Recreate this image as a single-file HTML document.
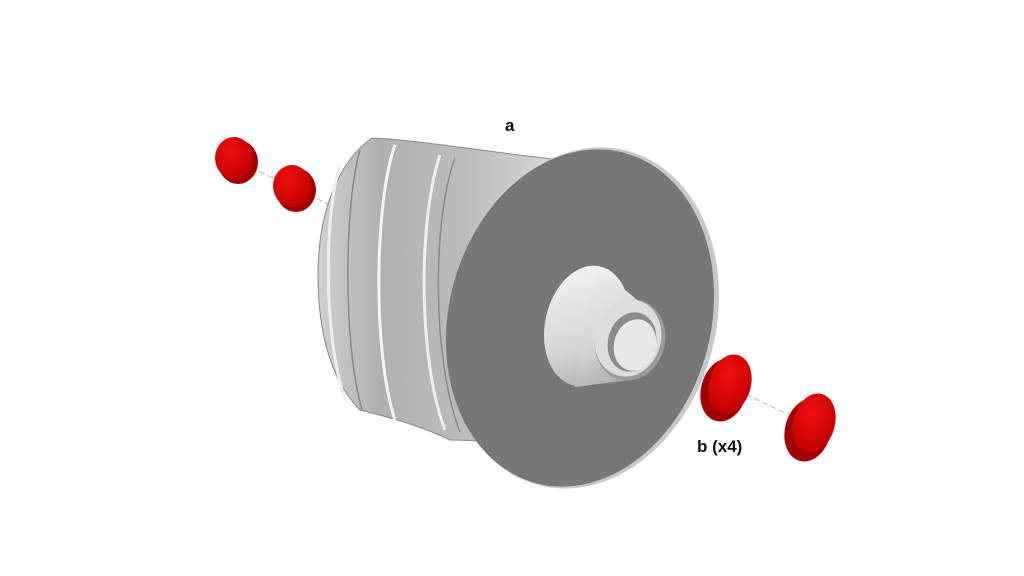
<!DOCTYPE html>
<html><head><meta charset="utf-8"><style>
html,body{margin:0;padding:0;background:#fff;width:1024px;height:576px;overflow:hidden}
text{font-family:"Liberation Sans",sans-serif;font-weight:bold;fill:#111}
</style></head><body>
<svg width="1024" height="576" viewBox="0 0 1024 576" xmlns="http://www.w3.org/2000/svg">
<defs>
<linearGradient id="body" x1="0" y1="0" x2="1" y2="0">
<stop offset="0" stop-color="#d0d0d0"/><stop offset="0.25" stop-color="#b0b0b0"/>
<stop offset="0.6" stop-color="#bcbcbc"/><stop offset="1" stop-color="#dadada"/>
</linearGradient>
<linearGradient id="cone" gradientUnits="userSpaceOnUse" x1="560" y1="270" x2="620" y2="390">
<stop offset="0" stop-color="#f2f2f2"/><stop offset="0.6" stop-color="#d6d6d6"/><stop offset="1" stop-color="#a8a8a8"/>
</linearGradient>
<radialGradient id="red" cx="0.4" cy="0.35" r="0.7">
<stop offset="0" stop-color="#f01010"/><stop offset="1" stop-color="#c00000"/>
</radialGradient>
</defs>
<g stroke="#bbb" stroke-width="1" stroke-dasharray="6,3">
<line x1="235" y1="160" x2="330" y2="205"/>
<line x1="640" y1="345" x2="811" y2="425"/>
</g>
<ellipse cx="238" cy="162" rx="20" ry="22" fill="#a00000"/>
<ellipse cx="234" cy="158" rx="19" ry="21" fill="url(#red)"/>
<ellipse cx="296" cy="190" rx="20" ry="22" fill="#a00000"/>
<ellipse cx="292" cy="186" rx="19" ry="21" fill="url(#red)"/>
<path d="M372,138 C420,140 470,150 562,160 L565,440 C520,445 480,440 450,440 C420,425 380,415 360,410 C330,380 318,330 318,275 C318,210 340,160 372,138 Z" fill="url(#body)" stroke="#8a8a8a" stroke-width="1"/>
<path d="M340,165 C325,210 322,330 345,400" fill="none" stroke="#eee" stroke-width="3"/>
<path d="M360,150 C345,200 342,340 362,410" fill="none" stroke="#888" stroke-width="1.5"/>
<path d="M395,145 C375,200 372,350 395,420" fill="none" stroke="#f4f4f4" stroke-width="3"/>
<path d="M440,155 C418,220 418,360 445,430" fill="none" stroke="#eee" stroke-width="3"/>
<path d="M455,158 C432,220 432,360 460,432" fill="none" stroke="#8a8a8a" stroke-width="1.5"/>
<ellipse cx="583" cy="318" rx="133" ry="173" transform="rotate(15 583 318)" fill="#c8c8c8"/>
<ellipse cx="580" cy="318" rx="131" ry="171" transform="rotate(15 580 318)" fill="#777777"/>
<ellipse cx="587" cy="326" rx="42" ry="61" transform="rotate(12 587 326)" fill="url(#cone)"/>
<path d="M596,266 L642,304 L630,380 L575,387 Z" fill="url(#cone)"/>
<ellipse cx="630" cy="340" rx="35" ry="41" transform="rotate(15 630 340)" fill="#9a9a9a"/>
<ellipse cx="628" cy="338" rx="33" ry="39" transform="rotate(15 628 338)" fill="#dcdcdc"/>
<ellipse cx="632" cy="342" rx="24" ry="30" transform="rotate(15 632 342)" fill="#8a8a8a"/>
<ellipse cx="635" cy="345" rx="21" ry="26" transform="rotate(15 635 345)" fill="#e8e8e8"/>
<ellipse cx="724" cy="390" rx="23" ry="32" transform="rotate(15 724 390)" fill="#a00000"/>
<ellipse cx="730" cy="384" rx="21" ry="30" transform="rotate(15 730 384)" fill="url(#red)"/>
<ellipse cx="808" cy="430" rx="23" ry="32" transform="rotate(15 808 430)" fill="#a00000"/>
<ellipse cx="814" cy="423" rx="21" ry="30" transform="rotate(15 814 423)" fill="url(#red)"/>
<text x="505" y="131" font-size="17">a</text>
<text x="697" y="452" font-size="17">b (x4)</text>
</svg>
</body></html>
